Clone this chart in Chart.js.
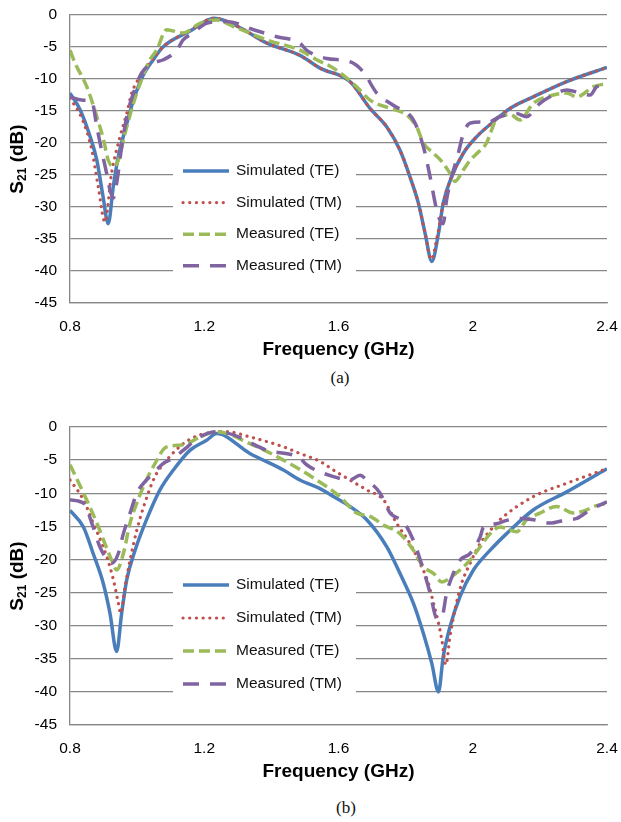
<!DOCTYPE html>
<html>
<head>
<meta charset="utf-8">
<script src="https://cdn.jsdelivr.net/npm/chart.js@4.4.1/dist/chart.umd.min.js"></script>
<style>
  body { margin: 0; background: #fff; width: 621px; height: 822px; position: relative; overflow: hidden; }
  .box { position: absolute; left: 0; width: 621px; }
  .cap { position: absolute; width: 40px; text-align: center; font-family: 'Liberation Serif', 'Times New Roman', serif; font-size: 17px; color: #111; }
</style>
</head>
<body>
<div class="box" style="top:0;height:365px"><canvas id="chartA" width="621" height="365"></canvas></div>
<div class="box" style="top:412px;height:375px"><canvas id="chartB" width="621" height="375"></canvas></div>
<div class="cap" style="left:320px;top:368px">(a)</div>
<div class="cap" style="left:326px;top:798px">(b)</div>
<script>
// tick labels / legend labels
const xTicks = [0.8, 1.2, 1.6, 2, 2.4];
const yTicks = [0, -5, -10, -15, -20, -25, -30, -35, -40, -45];
const seriesNames = ['Simulated (TE)', 'Simulated (TM)', 'Measured (TE)', 'Measured (TM)'];

// ---- chart (a) ----
const aSimTEf = [0.80, 0.83, 0.86, 0.88, 0.897, 0.914, 0.929, 0.944, 0.964, 0.989, 1.018, 1.048, 1.077, 1.158, 1.23, 1.30, 1.387, 1.485, 1.545, 1.634, 1.694, 1.744, 1.783, 1.813, 1.838, 1.858, 1.878, 1.898, 1.912, 1.937, 1.972, 2.012, 2.061, 2.111, 2.18, 2.28, 2.40];
const aSimTE  = [-12.2, -14.8, -19, -22.7, -27.9, -32.6, -26.8, -22.1, -18, -13.3, -9.4, -7, -5, -2.5, -0.5, -1.8, -4.4, -6.3, -8.3, -10.4, -14.6, -17.5, -21.1, -25.3, -29.4, -34.1, -38.5, -34.1, -29.4, -25.3, -21.6, -19, -16.7, -14.6, -12.8, -10.4, -8.2];

const aSimTMf = [0.80, 0.835, 0.865, 0.884, 0.904, 0.924, 0.949, 0.969, 0.984, 1.009, 1.048, 1.077, 1.158, 1.23, 1.30, 1.387, 1.485, 1.545, 1.634, 1.694, 1.744, 1.783, 1.813, 1.838, 1.858, 1.876, 1.896, 1.912, 1.937, 1.972, 2.012, 2.061, 2.111, 2.18, 2.28, 2.40];
const aSimTM  = [-13, -16.1, -21.1, -26.8, -32.3, -24.7, -19, -15.4, -12.2, -9.6, -6.8, -5, -2.4, -0.5, -1.8, -4.4, -6.3, -8.3, -10.4, -14.6, -17.5, -21.1, -25.3, -29.4, -34.1, -38.2, -34.1, -29.4, -25.3, -21.6, -19, -16.7, -14.6, -12.8, -10.4, -8.2];

const aMeasTEf = [0.80, 0.815, 0.85, 0.88, 0.90, 0.914, 0.929, 0.944, 0.964, 0.989, 1.009, 1.038, 1.058, 1.088, 1.137, 1.187, 1.237, 1.287, 1.387, 1.485, 1.535, 1.585, 1.654, 1.694, 1.754, 1.803, 1.833, 1.853, 1.883, 1.908, 1.932, 1.947, 1.972, 1.992, 2.017, 2.041, 2.056, 2.071, 2.081, 2.11, 2.141, 2.18, 2.24, 2.28, 2.31, 2.36, 2.40];
const aMeasTE  = [-5.5, -7.5, -11.2, -15.9, -19.5, -22.7, -23.7, -22.7, -18.5, -13.8, -10.7, -7, -5.5, -2.3, -2.8, -1.3, -0.8, -1.8, -3.9, -5.5, -7, -8.3, -11.2, -13.3, -14.6, -15.6, -17.5, -20, -21.6, -22.9, -24.7, -26, -24.2, -22.7, -21.4, -20, -18, -16.1, -15.9, -15.5, -16.4, -13.8, -12.5, -12.2, -12.8, -11.2, -10.7];

const aMeasTMf = [0.80, 0.835, 0.865, 0.88, 0.894, 0.909, 0.919, 0.929, 0.939, 0.954, 0.969, 0.989, 1.013, 1.048, 1.078, 1.118, 1.137, 1.167, 1.207, 1.267, 1.347, 1.416, 1.485, 1.505, 1.565, 1.634, 1.674, 1.714, 1.763, 1.823, 1.853, 1.873, 1.888, 1.898, 1.912, 1.922, 1.937, 1.957, 1.972, 1.992, 2.022, 2.04, 2.08, 2.13, 2.16, 2.20, 2.24, 2.28, 2.32, 2.35, 2.37, 2.40];
const aMeasTM  = [-12.8, -13.3, -13.5, -17.5, -21.1, -24.7, -27.3, -28.6, -26.3, -20.6, -15.9, -12.2, -9.1, -7.5, -7, -5.5, -3.9, -2.8, -1.3, -1.0, -2.3, -3.4, -4.4, -5.5, -6.8, -7.3, -8.9, -12.2, -14.1, -16.4, -20.6, -25.3, -29.4, -31.5, -32.6, -28.9, -25.3, -21.6, -18.5, -16.9, -16.7, -16.9, -15.9, -15.4, -15.9, -13.8, -12.5, -11.7, -12.2, -12.5, -11.2, -11];

// ---- chart (b) ----
const bSimTEf = [0.80, 0.84, 0.869, 0.899, 0.919, 0.939, 0.954, 0.969, 0.994, 1.028, 1.068, 1.108, 1.158, 1.207, 1.237, 1.336, 1.436, 1.485, 1.545, 1.585, 1.634, 1.684, 1.744, 1.783, 1.823, 1.853, 1.878, 1.898, 1.912, 1.932, 1.962, 2.002, 2.052, 2.101, 2.181, 2.28, 2.40];
const bSimTE  = [-12.6, -15.1, -19.1, -23.6, -28.1, -33.9, -28.1, -23.1, -18.6, -14, -9.5, -6.5, -3.5, -2, -1.0, -4.0, -6.5, -8.0, -9.3, -10.5, -12.0, -14.0, -18.1, -22.1, -26.6, -31.2, -35.7, -40, -34.7, -30.2, -25.6, -21.6, -18.6, -16.1, -12.5, -9.8, -6.3];

const bSimTMf = [0.80, 0.84, 0.869, 0.899, 0.919, 0.934, 0.944, 0.951, 0.964, 0.979, 0.999, 1.023, 1.053, 1.088, 1.138, 1.187, 1.267, 1.336, 1.436, 1.485, 1.545, 1.585, 1.684, 1.734, 1.774, 1.813, 1.843, 1.868, 1.883, 1.898, 1.908, 1.92, 1.932, 1.947, 1.967, 1.992, 2.022, 2.061, 2.081, 2.181, 2.28, 2.40];
const bSimTM  = [-8, -11, -14.5, -18.1, -21.1, -24.1, -26.6, -28.1, -24.1, -20.1, -15.6, -11.5, -7.5, -5, -2.5, -1.2, -0.7, -1.5, -3.0, -4.0, -5.2, -6.5, -9.5, -11, -14.6, -17.6, -20.6, -23.6, -26.6, -29.6, -32.2, -35.9, -31.7, -27.6, -23.6, -20.6, -17.6, -15.1, -14.0, -10.5, -8.5, -6.3];

const bMeasTEf = [0.80, 0.845, 0.88, 0.904, 0.924, 0.939, 0.959, 0.979, 0.999, 1.023, 1.048, 1.088, 1.138, 1.187, 1.237, 1.336, 1.436, 1.535, 1.604, 1.654, 1.694, 1.734, 1.783, 1.823, 1.853, 1.883, 1.908, 1.937, 1.962, 1.992, 2.022, 2.052, 2.081, 2.131, 2.161, 2.2, 2.25, 2.3, 2.34, 2.36, 2.40];
const bMeasTE  = [-5.7, -10.5, -14.5, -17.6, -20.1, -21.6, -19.1, -14.5, -11.5, -8.5, -6.0, -3.0, -2.7, -1.5, -0.7, -2.5, -5.0, -8.0, -10.5, -13.0, -13.5, -14.8, -16.1, -18.6, -21.1, -22.1, -23.4, -22.6, -21.6, -20.1, -18.1, -16.1, -15.1, -15.8, -14.0, -13.0, -12.0, -13.0, -12.5, -12.0, -11.5];

const bMeasTMf = [0.80, 0.84, 0.869, 0.889, 0.909, 0.924, 0.944, 0.959, 0.979, 0.999, 1.028, 1.048, 1.078, 1.108, 1.138, 1.187, 1.237, 1.287, 1.386, 1.485, 1.505, 1.585, 1.634, 1.664, 1.684, 1.724, 1.754, 1.793, 1.823, 1.853, 1.873, 1.893, 1.908, 1.922, 1.942, 1.962, 1.992, 2.022, 2.032, 2.071, 2.101, 2.141, 2.181, 2.23, 2.28, 2.31, 2.35, 2.40];
const bMeasTM  = [-11, -11.5, -15.1, -18.1, -19.9, -20.6, -19.1, -16.1, -13, -10, -8, -7, -5.5, -4.7, -3.5, -1.5, -0.7, -1.2, -3.5, -4.7, -5.7, -7.5, -8, -7.3, -8, -10, -13, -14.3, -17.1, -21.6, -25.1, -28.9, -28.7, -25.1, -22.1, -20.1, -19.1, -16.6, -15.1, -14.6, -14.1, -13.8, -14.0, -14.5, -14.0, -13.8, -12.5, -11.3];

const FONT = "'Liberation Sans', Arial, sans-serif";
const GRID = '#868686';

// line styles per series: TE sim, TM sim, TE meas, TM meas
const styles = [
  { color: '#4A7EBB', width: 3.5, dash: [], cap: 'butt', order: 3 },
  { color: '#C0504D', width: 3.2, dash: [0.1, 6.6], cap: 'round', order: 2 },
  { color: '#9BBB59', width: 3.5, dash: [11, 5], cap: 'butt', order: 1 },
  { color: '#8064A2', width: 3.5, dash: [16, 11], cap: 'butt', order: 0 }
];

function pts(fs, vs) {
  return fs.map((f, i) => ({ x: f, y: vs[i] }));
}

// y title with subscript + legend box drawn inside the plot
const extras = {
  id: 'extras',
  beforeDatasetsDraw(chart) {
    const ctx = chart.ctx;
    const a = chart.chartArea;
    const lg = chart.options.plugins.extras;
    ctx.save();
    ctx.fillStyle = '#fff';
    ctx.fillRect(lg.x0, lg.y0 - 20, lg.x1 - lg.x0, lg.step * 3 + 40);
    ctx.font = '15.5px ' + FONT;
    ctx.textBaseline = 'middle';
    chart.data.datasets.forEach((ds, i) => {
      const y = lg.y0 + i * lg.step;
      ctx.beginPath();
      ctx.strokeStyle = ds.borderColor;
      ctx.lineWidth = ds.borderWidth;
      ctx.setLineDash(ds.borderDash);
      ctx.lineCap = ds.borderCapStyle;
      ctx.moveTo(lg.x0 + 10, y);
      ctx.lineTo(lg.x0 + 56, y);
      ctx.stroke();
      ctx.setLineDash([]);
      ctx.fillStyle = '#111';
      ctx.fillText(ds.label, lg.x0 + 63, y);
    });

    // y axis title: S21 (dB)
    ctx.translate(18, (a.top + a.bottom) / 2);
    ctx.rotate(-Math.PI / 2);
    ctx.fillStyle = '#000';
    ctx.textBaseline = 'middle';
    const big = 'bold 19px ' + FONT, small = 'bold 12px ' + FONT;
    ctx.font = big; const w1 = ctx.measureText('S').width, w3 = ctx.measureText(' (dB)').width;
    ctx.font = small; const w2 = ctx.measureText('21').width;
    let x = -(w1 + w2 + w3) / 2;
    ctx.textAlign = 'left';
    ctx.font = big; ctx.fillText('S', x, 0); x += w1;
    ctx.font = small; ctx.fillText('21', x, 5); x += w2;
    ctx.font = big; ctx.fillText(' (dB)', x, 0);
    ctx.restore();
  }
};

function makeChart(id, series, legendY, legendStep) {
  const datasets = series.map((s, i) => ({
    label: seriesNames[i],
    data: pts(s[0], s[1]),
    borderColor: styles[i].color,
    borderWidth: styles[i].width,
    borderDash: styles[i].dash,
    borderCapStyle: styles[i].cap,
    order: styles[i].order,
    pointRadius: 0,
    fill: false,
    cubicInterpolationMode: 'monotone'
  }));

  return new Chart(document.getElementById(id), {
    type: 'line',
    data: { datasets: datasets },
    plugins: [extras],
    options: {
      responsive: false,
      animation: false,
      devicePixelRatio: 1,
      layout: { padding: { top: 15, right: 14, bottom: 0, left: 0 } },
      plugins: {
        legend: { display: false },
        tooltip: { enabled: false },
        extras: { x0: 173, x1: 356, y0: legendY, step: legendStep }
      },
      scales: {
        x: {
          type: 'linear',
          min: 0.8, max: 2.4,
          afterBuildTicks: (sc) => { sc.ticks = xTicks.map(v => ({ value: v })); },
          ticks: { color: '#000', font: { family: FONT, size: 15.5 }, padding: 14, maxRotation: 0, callback: v => String(v) },
          grid: { display: false, drawTicks: false },
          border: { display: true, color: GRID, width: 1.3 },
          title: { display: true, text: 'Frequency (GHz)', color: '#000', font: { family: FONT, size: 19, weight: 'bold' }, padding: { top: 0, bottom: 4 } },
          afterFit: (sc) => { sc.height = 62; sc.paddingLeft = 0; sc.paddingRight = 0; }
        },
        y: {
          min: -45, max: 0,
          afterBuildTicks: (sc) => { sc.ticks = yTicks.map(v => ({ value: v })); },
          ticks: { color: '#000', font: { family: FONT, size: 15.5 }, padding: 13, callback: v => String(v) },
          grid: { color: GRID, lineWidth: 1.3, drawTicks: false },
          border: { display: true, color: GRID, width: 1.3 },
          afterFit: (sc) => { sc.width = 70; sc.paddingTop = 0; sc.paddingBottom = 0; }
        }
      }
    }
  });
}

makeChart('chartA', [[aSimTEf, aSimTE], [aSimTMf, aSimTM], [aMeasTEf, aMeasTE], [aMeasTMf, aMeasTM]], 171, 31.6);
makeChart('chartB', [[bSimTEf, bSimTE], [bSimTMf, bSimTM], [bMeasTEf, bMeasTE], [bMeasTMf, bMeasTM]], 585 - 412, 33);
</script>
</body>
</html>
